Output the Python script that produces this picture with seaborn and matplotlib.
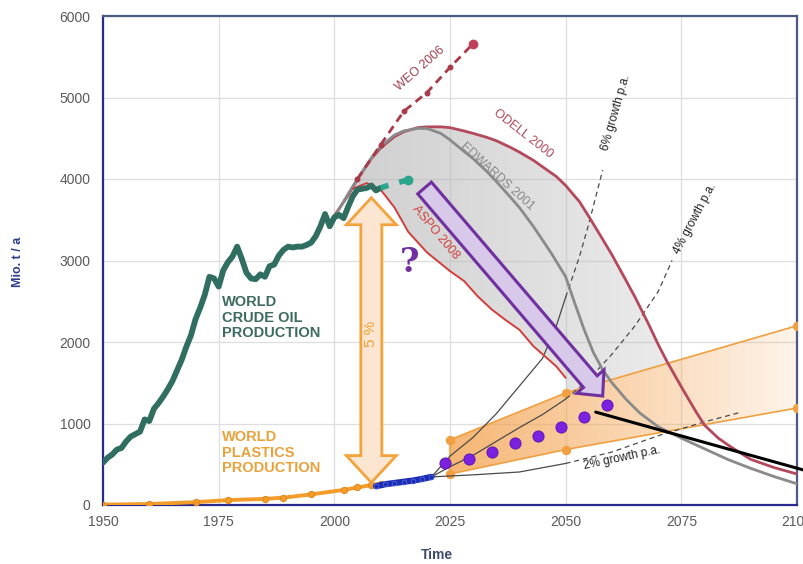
import numpy as np
import matplotlib
matplotlib.use("Agg")
import matplotlib.pyplot as plt
from matplotlib.patches import Polygon
import seaborn as sns

# world crude oil production, Mio. t / a
oil_years = [1950, 1951, 1952, 1953, 1954, 1955, 1956, 1957, 1958, 1959, 1960,
             1961, 1962, 1963, 1964, 1965, 1966, 1967, 1968, 1969, 1970,
             1971, 1972, 1973, 1974, 1975, 1976, 1977, 1978, 1979, 1980,
             1981, 1982, 1983, 1984, 1985, 1986, 1987, 1988, 1989, 1990,
             1991, 1992, 1993, 1994, 1995, 1996, 1997, 1998, 1999, 2000,
             2001, 2002, 2003, 2004, 2005, 2006, 2007, 2008, 2009, 2010]
oil_vals = [520, 580, 620, 680, 700, 780, 840, 870, 900, 1050, 1030,
            1180, 1250, 1330, 1420, 1520, 1650, 1780, 1940, 2080, 2280,
            2420, 2580, 2800, 2780, 2680, 2880, 2980, 3050, 3170, 3020,
            2850, 2780, 2770, 2830, 2800, 2930, 2950, 3060, 3130, 3170,
            3160, 3170, 3170, 3190, 3220, 3300, 3420, 3570, 3420, 3530,
            3560, 3520, 3660, 3790, 3870, 3880, 3890, 3920, 3860, 3890]
oil_est_years = [2010, 2012, 2014, 2016]
oil_est_vals = [3890, 3930, 3960, 3990]

# world plastics production
plast_years = [1950, 1960, 1970, 1977, 1985, 1989, 1995, 2002, 2005, 2008, 2010]
plast_vals = [5, 12, 35, 60, 75, 90, 130, 185, 215, 245, 260]
blue_years = [2009, 2011, 2013, 2015, 2017, 2019, 2021]
blue_vals = [230, 255, 270, 285, 300, 320, 345]
purple_years = [2024, 2029, 2034, 2039, 2044, 2049, 2054, 2059]
purple_vals = [515, 565, 650, 760, 850, 960, 1080, 1230]
band_years = [2025, 2050, 2100]
band_low = [380, 680, 1190]
band_high = [800, 1375, 2200]

# oil forecasts
weo_years = [2005, 2010, 2015, 2020, 2025, 2030]
weo_vals = [4000, 4420, 4830, 5060, 5370, 5660]
odell_years = [2000, 2003, 2005, 2008, 2010, 2013, 2015, 2018, 2020, 2023, 2025,
               2028, 2030, 2033, 2035, 2038, 2040, 2043, 2045, 2048, 2050, 2053,
               2055, 2058, 2060, 2063, 2065, 2068, 2070, 2072, 2075, 2078, 2080,
               2083, 2085, 2088, 2090, 2095, 2100]
odell_vals = [3550, 3800, 4000, 4250, 4380, 4520, 4580, 4630, 4640, 4640, 4630,
              4590, 4560, 4510, 4470, 4390, 4330, 4230, 4150, 4030, 3920, 3720,
              3540, 3260, 3070, 2760, 2550, 2210, 1970, 1750, 1450, 1160, 980,
              820, 740, 630, 560, 460, 380]
edw_years = [2000, 2003, 2005, 2008, 2010, 2013, 2015, 2018, 2020, 2023, 2025,
             2028, 2030, 2033, 2035, 2038, 2040, 2043, 2045, 2047, 2050, 2052,
             2054, 2056, 2058, 2060, 2063, 2066, 2070, 2075, 2080, 2085, 2090,
             2095, 2100]
edw_vals = [3530, 3820, 4000, 4260, 4400, 4540, 4590, 4620, 4620, 4560, 4480,
            4340, 4250, 4090, 3970, 3780, 3650, 3420, 3250, 3080, 2800, 2470,
            2150, 1870, 1660, 1500, 1300, 1130, 960, 820, 690, 560, 450, 350, 260]
aspo_years = [2004, 2007, 2010, 2013, 2016, 2020, 2025, 2028, 2031, 2034, 2037,
              2040, 2043, 2046, 2048, 2050]
aspo_vals = [3880, 3950, 3870, 3650, 3350, 3100, 2870, 2750, 2560, 2400, 2270,
             2150, 1950, 1800, 1700, 1560]

# plastics growth scenarios
g6_years = [2021, 2025, 2030, 2035, 2040, 2045, 2048, 2050, 2053, 2055, 2058]
g6_vals = [345, 600, 830, 1120, 1460, 1800, 2200, 2550, 3050, 3450, 4110]
g4_years = [2021, 2025, 2030, 2035, 2040, 2045, 2050, 2055, 2060, 2065, 2070, 2073]
g4_vals = [345, 470, 610, 780, 950, 1110, 1300, 1540, 1850, 2200, 2620, 3000]
g2_years = [2021, 2030, 2040, 2050, 2060, 2070, 2080, 2088]
g2_vals = [345, 370, 405, 510, 650, 850, 1020, 1140]

sns.set_theme(style="whitegrid")
plt.rcParams['font.family'] = ['Liberation Sans', 'DejaVu Sans']

fig = plt.figure(figsize=(8.04, 5.64), dpi=100)
ax = fig.add_axes([103 / 804, 59 / 564, 694 / 804, 489 / 564])
ax.set_xlim(1950, 2100)
ax.set_ylim(0, 6000)
ax.set_xticks([1950, 1975, 2000, 2025, 2050, 2075, 2100])
ax.set_yticks(range(0, 6001, 1000))
ax.grid(color='#dedede', lw=0.9)
ax.tick_params(length=0, labelsize=10, labelcolor='#5a5a5a')
ax.tick_params(axis='y', pad=9)
ax.tick_params(axis='x', pad=7)
for s in ['left', 'bottom']:
    ax.spines[s].set_color('#2a2a8e')
for s in ['top', 'right']:
    ax.spines[s].set_color('#4d5b80')
for s in ax.spines.values():
    s.set_linewidth(1.6)


def gradient_fill(x, lo, hi, rgb, a0, a1, x0, x1, z):
    poly = ax.fill_between(x, lo, hi, facecolor='none', edgecolor='none')
    img = np.zeros((2, 256, 4))
    img[..., :3] = rgb
    img[..., 3] = np.linspace(a0, a1, 256)
    im = ax.imshow(img, extent=[x0, x1, 0, 6000], aspect='auto', origin='lower',
                   zorder=z, interpolation='bilinear')
    im.set_clip_path(poly.get_paths()[0], transform=ax.transData)


# grey forecast envelope
gx = np.linspace(2003, 2078, 300)
upper = np.maximum(np.interp(gx, odell_years, odell_vals), np.interp(gx, edw_years, edw_vals))
lower = np.where(gx <= 2050, np.interp(gx, aspo_years, aspo_vals),
                 np.interp(gx, band_years, band_high))
lower = np.minimum(lower, upper)
gradient_fill(gx, lower, upper, (0.72, 0.72, 0.72), 0.68, 0.25, 2000, 2078, 1)

# orange plastics band
bx = np.linspace(2025, 2100, 200)
gradient_fill(bx, np.interp(bx, band_years, band_low), np.interp(bx, band_years, band_high),
              (0.96, 0.64, 0.32), 0.8, 0.12, 2025, 2100, 1.2)
ax.set_xlim(1950, 2100)
ax.set_ylim(0, 6000)

band_col = '#f0a040'
sns.lineplot(x=band_years, y=band_low, ax=ax, color=band_col, lw=1.2, marker='o', ms=6, mec=band_col, zorder=3)
sns.lineplot(x=band_years, y=band_high, ax=ax, color=band_col, lw=1.2, marker='o', ms=6, mec=band_col, zorder=3)
ax.plot([band_years[0]] * 2, [band_low[0], band_high[0]], color=band_col, lw=1.2, zorder=3)

# growth lines: solid to 2050, dashed beyond
for yrs, vals in [(g6_years, g6_vals), (g4_years, g4_vals), (g2_years, g2_vals)]:
    yrs = np.array(yrs)
    vals = np.array(vals)
    m1 = yrs <= 2050
    m2 = yrs >= 2050
    sns.lineplot(x=yrs[m1], y=vals[m1], ax=ax, color='#4a4a4a', lw=0.9, zorder=3)
    sns.lineplot(x=yrs[m2], y=vals[m2], ax=ax, color='#4a4a4a', lw=0.9, linestyle=(0, (4, 3)), zorder=3)

# forecasts
sns.lineplot(x=odell_years, y=odell_vals, ax=ax, color='#b4485c', lw=2, zorder=4)
sns.lineplot(x=edw_years, y=edw_vals, ax=ax, color='#8a8a8a', lw=2, zorder=4)
sns.lineplot(x=aspo_years, y=aspo_vals, ax=ax, color='#d43c3c', lw=1.4, zorder=4)
sns.lineplot(x=weo_years, y=weo_vals, ax=ax, color='#a83a4a', lw=2, linestyle=(0, (3, 2)),
             marker='o', ms=3.5, mec='#a83a4a', zorder=4)
ax.plot(weo_years[-1], weo_vals[-1], 'o', color='#c0405a', ms=6, zorder=5)

# production lines
sns.lineplot(x=oil_years, y=oil_vals, ax=ax, color='#316e62', lw=4.2, zorder=6)
sns.lineplot(x=oil_est_years, y=oil_est_vals, ax=ax, color='#2ca58d', lw=4, linestyle=(0, (1.5, 2)), zorder=6)
ax.plot(oil_est_years[-1], oil_est_vals[-1], 'o', color='#2ca58d', ms=6, zorder=6)
sns.lineplot(x=plast_years, y=plast_vals, ax=ax, color='#f39c2a', lw=2.8, marker='o', ms=4.5,
             mec='#e08a20', zorder=6)
sns.lineplot(x=blue_years, y=blue_vals, ax=ax, color='#1a2cb5', lw=4.5, marker='o', ms=3.5,
             mec='#6070e0', mew=0.5, zorder=6)
sns.scatterplot(x=purple_years, y=purple_vals, ax=ax, color='#7b22e0', s=65, edgecolor='#5a10b0',
                linewidth=0.6, zorder=7)


def block_arrow(start, end, shaft, head_w, head_len, both=False, **kw):
    p0 = ax.transData.transform(start)
    p1 = ax.transData.transform(end)
    d = p1 - p0
    u = d / np.hypot(*d)
    n = np.array([-u[1], u[0]])
    s, h, hl = shaft / 2, head_w / 2, head_len
    if both:
        pts = [p0, p0 + u * hl + n * h, p0 + u * hl + n * s, p1 - u * hl + n * s,
               p1 - u * hl + n * h, p1, p1 - u * hl - n * h, p1 - u * hl - n * s,
               p0 + u * hl - n * s, p0 + u * hl - n * h]
    else:
        pts = [p0 + n * s, p1 - u * hl + n * s, p1 - u * hl + n * h, p1,
               p1 - u * hl - n * h, p1 - u * hl - n * s, p0 - n * s]
    ax.add_patch(Polygon(ax.transData.inverted().transform(pts), closed=True, **kw))


# 5 % ratio arrow between oil and plastics
arrow_year = 2008
top = np.interp(arrow_year, oil_years, oil_vals) - 150
bottom = np.interp(arrow_year, plast_years, plast_vals) + 30
block_arrow((arrow_year, top), (arrow_year, bottom), 21, 50, 27, both=True,
            facecolor='#fce6d2', edgecolor='#f3a23c', lw=2, zorder=8)
ax.text(arrow_year, 2100, '5 %', rotation=90, ha='center', va='center', color='#f0a030',
        fontsize=11, zorder=9)

block_arrow((2019.5, 3890), (2058, 1337), 18, 36, 19,
            facecolor='#d8c8ea', edgecolor='#7030a0', lw=2.2, zorder=8)
ax.text(2016.3, 2980, '?', color='#7030a0', fontsize=24, fontweight='bold',
        family='DejaVu Serif', ha='center', va='center', zorder=9)

ax.plot([2056.5, 2102], [1140, 420], color='black', lw=2.2, clip_on=False, zorder=9)

# labels
ax.text(1975.8, 2575, 'WORLD\nCRUDE OIL\nPRODUCTION', color='#3d6b62', fontsize=10.5,
        fontweight='bold', ha='left', va='top', linespacing=1.15, zorder=9)
ax.text(1975.8, 920, 'WORLD\nPLASTICS\nPRODUCTION', color='#e9a23b', fontsize=10.5,
        fontweight='bold', ha='left', va='top', linespacing=1.15, zorder=9)
ax.text(2018.5, 5350, 'WEO 2006', rotation=41, color='#a0404f', fontsize=9, ha='center', va='center')
ax.text(2040.8, 4560, 'ODELL 2000', rotation=-38, color='#b04a5a', fontsize=9, ha='center', va='center')
ax.text(2035.2, 4025, 'EDWARDS 2001', rotation=-42, color='#8a8a8a', fontsize=9, ha='center', va='center', zorder=9)
ax.text(2021.8, 3350, 'ASPO 2008', rotation=-50, color='#d04040', fontsize=9, ha='center', va='center', zorder=9)
ax.text(2060.9, 4810, '6% growth p.a.', rotation=74, color='#222222', fontsize=8.5, ha='center', va='center')
ax.text(2078, 3520, '4% growth p.a.', rotation=62, color='#222222', fontsize=8.5, ha='center', va='center')
ax.text(2062.2, 575, '2% growth p.a.', rotation=12, color='#222222', fontsize=8.5, ha='center', va='center', zorder=9)

ax.set_xlabel('')
ax.set_ylabel('')
fig.text(18 / 804, 1 - 262 / 564, 'Mio. t / a', rotation=90, ha='center', va='center',
         color='#2e3d8c', fontsize=9, fontweight='bold')
fig.text(437 / 804, 1 - 555 / 564, 'Time', ha='center', va='center',
         color='#3d4b6b', fontsize=10, fontweight='bold')

fig.savefig('out.png', dpi=100)
